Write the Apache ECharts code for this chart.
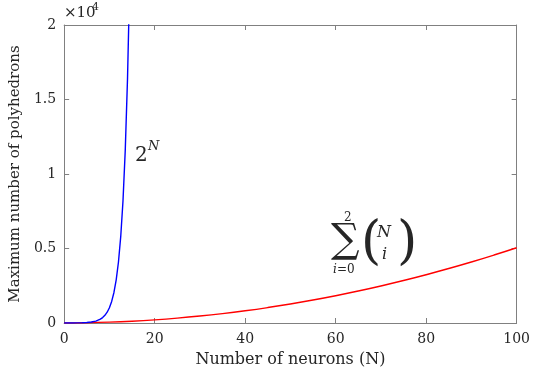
<!DOCTYPE html>
<html>
<head>
<meta charset="utf-8">
<script src="https://cdn.jsdelivr.net/npm/echarts@6/dist/echarts.min.js"></script>
<style>
  html, body { margin: 0; padding: 0; background: #fff; }
  #chart { width: 533px; height: 380px; }
</style>
</head>
<body>
<div id="chart"></div>
<script>
// x positions and values for the two curves
const expN = [0, 1, 2, 3, 4, 5, 6, 7, 8, 8.5, 9, 9.5, 10, 10.5, 11, 11.5, 12, 12.5, 13, 13.5, 14, 14.5, 15];
const expVals = [1, 2, 4, 8, 16, 32, 64, 128, 256, 362, 512, 724, 1024, 1448, 2048, 2896, 4096, 5793, 8192, 11585, 16384, 23170, 32768];
const sumN = [0, 5, 10, 15, 20, 25, 30, 35, 40, 45, 50, 55, 60, 65, 70, 75, 80, 85, 90, 95, 100];
const sumVals = [1, 16, 56, 121, 211, 326, 466, 631, 821, 1036, 1276, 1541, 1831, 2146, 2486, 2851, 3241, 3656, 4096, 4561, 5051];
const yTickLabels = ['0', '0.5', '1', '1.5', '2'];

const FONT = '"DejaVu Serif"';
const TXT = '#262626';
const AX = '#808080';

const chart = echarts.init(document.getElementById('chart'));

const baseAxisLine = { show: true, onZero: false, lineStyle: { color: AX, width: 1 } };
const tickIn = { show: true, inside: true, length: 5, lineStyle: { color: AX } };

const option = {
    animation: false,
    grid: { left: 64, right: 14, top: 25, bottom: 57 },
    xAxis: [
        {
            type: 'value', min: 0, max: 100, interval: 20,
            name: 'Number of neurons (N)', nameLocation: 'middle', nameGap: 29,
            nameTextStyle: { fontFamily: FONT, fontSize: 16, color: TXT },
            axisLine: baseAxisLine, axisTick: tickIn,
            axisLabel: { fontFamily: FONT, fontSize: 14, color: TXT, margin: 9 },
            splitLine: { show: false }
        },
        {
            type: 'value', position: 'top', min: 0, max: 100, interval: 20,
            axisLine: baseAxisLine, axisTick: tickIn,
            axisLabel: { show: false }, splitLine: { show: false }
        }
    ],
    yAxis: [
        {
            type: 'value', min: 0, max: 20000, interval: 5000,
            name: 'Maximum number of polyhedrons', nameLocation: 'middle', nameGap: 40,
            nameTextStyle: { fontFamily: FONT, fontSize: 15, color: TXT },
            axisLine: baseAxisLine, axisTick: tickIn,
            axisLabel: {
                fontFamily: FONT, fontSize: 14, color: TXT, margin: 8,
                formatter: v => yTickLabels[Math.round(v / 5000)]
            },
            splitLine: { show: false }
        },
        {
            type: 'value', position: 'right', min: 0, max: 20000, interval: 5000,
            axisLine: baseAxisLine, axisTick: tickIn,
            axisLabel: { show: false }, splitLine: { show: false }
        }
    ],
    series: [
        {
            name: 'sum', type: 'line', showSymbol: false, smooth: true,
            data: sumN.map((n, i) => [n, sumVals[i]]),
            lineStyle: { color: '#ff0000', width: 1.4 }, clip: true, z: 2
        },
        {
            name: '2^N', type: 'line', showSymbol: false,
            data: expN.map((n, i) => [n, expVals[i]]),
            lineStyle: { color: '#0000ff', width: 1.4 }, clip: true, z: 3
        }
    ],
    graphic: [
        // x10^4 multiplier
        { type: 'text', left: 64, top: 6, style: { text: '×10', font: '15px ' + FONT, fill: TXT } },
        { type: 'text', left: 92, top: 2, style: { text: '4', font: '11px ' + FONT, fill: TXT } },
        // 2^N annotation
        { type: 'text', left: 135, top: 146, style: { text: '2', font: '20px ' + FONT, fill: TXT } },
        { type: 'text', left: 148, top: 140, style: { text: 'N', font: 'italic 13px ' + FONT, fill: TXT } },
        // sum_{i=0}^{2} (N choose i)
        { type: 'text', left: 344, top: 212, style: { text: '2', font: '12px ' + FONT, fill: TXT } },
        { type: 'text', left: 331, top: 222, style: { text: '∑', font: '40px ' + FONT, fill: TXT } },
        { type: 'text', left: 333, top: 264, style: { text: 'i', font: 'italic 12px ' + FONT, fill: TXT } },
        { type: 'text', left: 337, top: 264, style: { text: '=0', font: '12px ' + FONT, fill: TXT } },
        { type: 'text', left: 361, top: 218, style: { text: '(', font: '52px ' + FONT, fill: TXT } },
        { type: 'text', left: 377, top: 225, style: { text: 'N', font: 'italic 16px ' + FONT, fill: TXT } },
        { type: 'text', left: 382, top: 247, style: { text: 'i', font: 'italic 16px ' + FONT, fill: TXT } },
        { type: 'text', left: 397, top: 218, style: { text: ')', font: '52px ' + FONT, fill: TXT } }
    ]
};

chart.setOption(option);
</script>
</body>
</html>
